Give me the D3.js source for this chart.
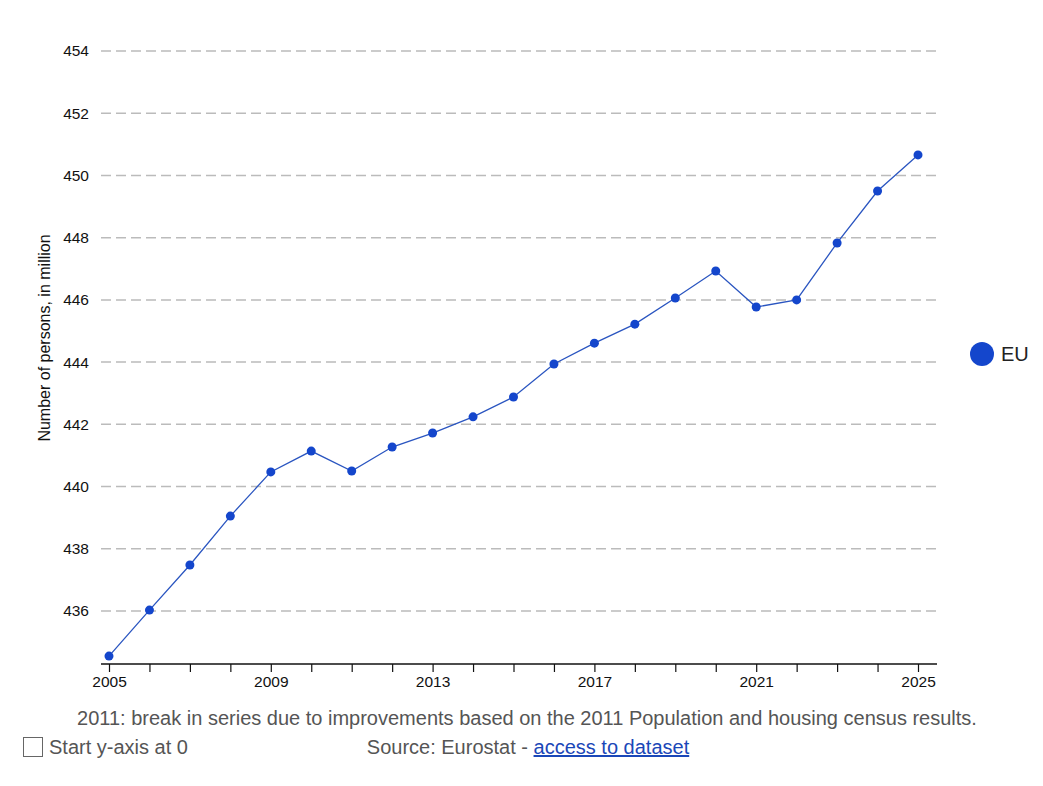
<!DOCTYPE html>
<html>
<head>
<meta charset="utf-8">
<script src="https://cdn.jsdelivr.net/npm/d3@7"></script>
<style>
  body { margin: 0; background: #fff; font-family: "Liberation Sans", Arial, sans-serif; }
  svg { display: block; }
</style>
</head>
<body>
<div id="chart"></div>
<script>
// Data
var years = [2005, 2006, 2007, 2008, 2009, 2010, 2011, 2012, 2013, 2014, 2015,
             2016, 2017, 2018, 2019, 2020, 2021, 2022, 2023, 2024, 2025];
var population = [434.55, 436.03, 437.48, 439.05, 440.47, 441.14, 440.50, 441.27, 441.72, 442.24, 442.88,
                  443.94, 444.61, 445.22, 446.06, 446.93, 445.77, 446.00, 447.83, 449.50, 450.66];
var yTicks = [436, 438, 440, 442, 444, 446, 448, 450, 452, 454];
var xTickLabels = [2005, 2009, 2013, 2017, 2021, 2025];
var seriesName = "EU";
var footnote = "2011: break in series due to improvements based on the 2011 Population and housing census results.";

var width = 1043, height = 786;
var plotLeft = 101, plotRight = 937, axisY = 664;

var svg = d3.select("#chart").append("svg")
  .attr("width", width)
  .attr("height", height);

// scales
var x = d3.scaleLinear().domain([2005, 2025]).range([109, 918]);
var y = d3.scaleLinear().domain([436, 454]).range([611, 51]);

// gridlines
svg.append("g").selectAll("line")
  .data(yTicks)
  .enter().append("line")
  .attr("x1", plotLeft)
  .attr("x2", plotRight)
  .attr("y1", d => y(d))
  .attr("y2", d => y(d))
  .attr("stroke", "#bbbbbb")
  .attr("stroke-width", 1.5)
  .attr("stroke-dasharray", "10,5");

// y tick labels
svg.append("g").selectAll("text")
  .data(yTicks)
  .enter().append("text")
  .attr("x", 89)
  .attr("y", d => y(d))
  .attr("dy", "0.35em")
  .attr("text-anchor", "end")
  .attr("font-size", "15.5px")
  .attr("fill", "#111")
  .text(d => d);

// y axis title
svg.append("text")
  .attr("transform", "translate(50," + 338 + ") rotate(-90)")
  .attr("text-anchor", "middle")
  .attr("font-size", "16px")
  .attr("fill", "#111")
  .text("Number of persons, in million");

// x axis
var xAxis = d3.axisBottom(x)
  .tickValues(years)
  .tickSize(8)
  .tickFormat(d => xTickLabels.indexOf(d) >= 0 ? d : "");

var gx = svg.append("g")
  .attr("transform", "translate(0," + axisY + ")")
  .call(xAxis);
gx.select(".domain").remove();
gx.append("line")
  .attr("x1", plotLeft).attr("x2", plotRight)
  .attr("stroke", "#111").attr("stroke-width", 1.5);
gx.selectAll(".tick line").attr("stroke", "#111").attr("stroke-width", 1.2);
gx.selectAll(".tick text")
  .attr("font-family", "'Liberation Sans', Arial, sans-serif")
  .attr("font-size", "15.5px")
  .attr("fill", "#111")
  .attr("y", 12);

// line
var line = d3.line()
  .x((d, i) => x(years[i]))
  .y(d => y(d));

svg.append("path")
  .datum(population)
  .attr("d", line)
  .attr("fill", "none")
  .attr("stroke", "#2a55c0")
  .attr("stroke-width", 1.3);

svg.append("g").selectAll("circle")
  .data(population)
  .enter().append("circle")
  .attr("cx", (d, i) => x(years[i]))
  .attr("cy", d => y(d))
  .attr("r", 4.5)
  .attr("fill", "#1446cc");

// legend
svg.append("circle")
  .attr("cx", 982).attr("cy", 354).attr("r", 12)
  .attr("fill", "#1446cc");
svg.append("text")
  .attr("x", 1001).attr("y", 354)
  .attr("dy", "0.35em")
  .attr("font-size", "20px")
  .attr("fill", "#222")
  .text(seriesName);

// footnote
svg.append("text")
  .attr("x", 527).attr("y", 725)
  .attr("text-anchor", "middle")
  .attr("font-size", "20px")
  .attr("fill", "#555")
  .text(footnote);

// checkbox
svg.append("rect")
  .attr("x", 23.5).attr("y", 737.5).attr("width", 19).attr("height", 19)
  .attr("fill", "#fff").attr("stroke", "#666").attr("stroke-width", 1);
svg.append("text")
  .attr("x", 49).attr("y", 754)
  .attr("font-size", "20px")
  .attr("fill", "#555")
  .text("Start y-axis at 0");

// source
var src = svg.append("text")
  .attr("x", 528).attr("y", 754)
  .attr("text-anchor", "middle")
  .attr("font-size", "20px")
  .attr("fill", "#555");
src.append("tspan").text("Source: Eurostat - ");
src.append("tspan")
  .attr("fill", "#1a47b8")
  .attr("text-decoration", "underline")
  .text("access to dataset");
</script>
</body>
</html>
